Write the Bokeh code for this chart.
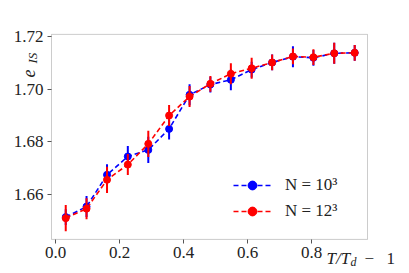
from bokeh.plotting import figure
from bokeh.models import (ColumnDataSource, Range1d, FixedTicker, Legend, LegendItem,
                          Label, PrintfTickFormatter, LinearAxis, BoxAnnotation)
from bokeh.core.properties import value
from bokeh.embed import file_html
from bokeh.resources import INLINE

# ---- data ----
x_vals = [0.032, 0.097, 0.161, 0.226, 0.290, 0.355, 0.419, 0.484, 0.548,
          0.613, 0.677, 0.742, 0.806, 0.871, 0.935]
blue_y = [1.6512, 1.6552, 1.6673, 1.6743, 1.6768, 1.6848, 1.6978, 1.7017,
          1.7035, 1.7074, 1.7101, 1.7123, 1.7119, 1.7136, 1.7138]
blue_err = [0.003, 0.004, 0.004, 0.004, 0.005, 0.004, 0.004, 0.003, 0.004,
            0.003, 0.003, 0.004, 0.003, 0.004, 0.003]
red_y = [1.6508, 1.6544, 1.6654, 1.6712, 1.6791, 1.6899, 1.6971, 1.7020,
         1.7058, 1.7079, 1.7101, 1.7124, 1.7121, 1.7136, 1.7138]
red_err = [0.005, 0.004, 0.005, 0.004, 0.005, 0.004, 0.004, 0.003, 0.004,
           0.004, 0.003, 0.003, 0.003, 0.004, 0.003]
x_ticks = [0.0, 0.2, 0.4, 0.6, 0.8]
y_ticks = [1.66, 1.68, 1.70, 1.72]
series_labels = ["N = 10³", "N = 12³"]

# visible axes box (data limits)
X_MIN, X_MAX = -0.0125, 0.975
Y_MIN, Y_MAX = 1.6427, 1.7208

FONT = "Liberation Serif"
AX = "#555555"
TXT = "#222222"

W, H = 409, 273
# frame spans the whole canvas; axes are pinned at the box edges
PX_X0, PX_PER_X = 55.0, 320.0        # canvas px of x=0, px per unit
PX_Y0, PX_PER_Y = 193.5, 2625.0      # canvas px of y=1.66, px per unit


def dx(px):
    return (px - PX_X0) / PX_PER_X


def dy(py):
    return 1.66 - (py - PX_Y0) / PX_PER_Y


p = figure(width=W, height=H, output_backend="svg", toolbar_location=None,
           x_range=Range1d(dx(0), dx(W)), y_range=Range1d(dy(H), dy(0)),
           x_axis_location=None, y_axis_location=None,
           min_border=0, min_border_left=0, min_border_right=0,
           min_border_top=0, min_border_bottom=0)
p.background_fill_color = "white"
p.border_fill_color = "white"
p.outline_line_color = None
p.xgrid.visible = False
p.ygrid.visible = False

xaxis = LinearAxis(fixed_location=Y_MIN)
yaxis = LinearAxis(fixed_location=X_MIN)
p.add_layout(xaxis, "below")
p.add_layout(yaxis, "left")

for ax, ticks, fmt in ((xaxis, x_ticks, "%.1f"), (yaxis, y_ticks, "%.2f")):
    ax.ticker = FixedTicker(ticks=ticks)
    ax.formatter = PrintfTickFormatter(format=fmt)
    ax.minor_tick_line_color = None
    ax.major_tick_out = 4
    ax.major_tick_in = 0
    ax.major_tick_line_color = AX
    ax.axis_line_color = None
    ax.major_label_text_font = FONT
    ax.major_label_text_font_size = "17px"
    ax.major_label_text_color = TXT
    ax.major_label_standoff = 4

p.add_layout(BoxAnnotation(left=X_MIN, right=X_MAX, bottom=Y_MIN, top=Y_MAX,
                           fill_color=None, fill_alpha=0, line_color=AX,
                           line_width=1, level="underlay"))

items = []
for ys, errs, color, lab in ((blue_y, blue_err, "blue", series_labels[0]),
                             (red_y, red_err, "red", series_labels[1])):
    src = ColumnDataSource(dict(x=x_vals, y=ys,
                                lo=[a - b for a, b in zip(ys, errs)],
                                hi=[a + b for a, b in zip(ys, errs)]))
    r_line = p.line("x", "y", source=src, line_color=color, line_width=1.6,
                    line_dash="5 3")
    p.segment(x0="x", y0="lo", x1="x", y1="hi", source=src, line_color=color,
              line_width=2)
    r_bar = p.scatter("x", "y", source=src, marker="cross", size=0,
                      line_color=color, line_width=2)
    r_pt = p.scatter("x", "y", source=src, marker="circle", size=7,
                     fill_color=color, line_color=color)
    items.append(LegendItem(label=lab, renderers=[r_line, r_bar, r_pt]))

# legend: glyph column starts at canvas x=233, block top at y=174 (48 px tall)
legend = Legend(items=items, location=(233, H - 222), background_fill_alpha=0,
                border_line_color=None, glyph_width=38, glyph_height=22,
                spacing=4, padding=0, margin=0, label_standoff=14,
                label_text_font=FONT, label_text_font_size="17px",
                label_text_color=TXT)
p.add_layout(legend, "center")


def txt(px, py, s, size, style="normal"):
    p.add_layout(Label(x=dx(px), y=dy(py), text=s,
                       text_font=FONT, text_font_size=size,
                       text_font_style=style, text_color=TXT,
                       text_baseline="alphabetic", text_align="left"))


def vtxt(px, py, s, size, style="italic"):
    # rotated text, reading bottom to top
    p.text(x=[dx(px)], y=[dy(py)], text=[s], angle=90, angle_units="deg",
           text_font=value(FONT), text_font_size=value(size),
           text_font_style=style, text_color=TXT,
           text_baseline="alphabetic", text_align="left")


# y-axis label e_IS
vtxt(28, 77, "e", "18px")
vtxt(32, 63, "IS", "13px")
# x-axis label T/T_d - 1
txt(326, 258, "T/T", "17px", "italic")
txt(350, 261, "d", "12px", "italic")
txt(364, 258, "−", "17px")
txt(386, 258, "1", "17px")

open("out.html", "w").write(file_html(p, INLINE))
